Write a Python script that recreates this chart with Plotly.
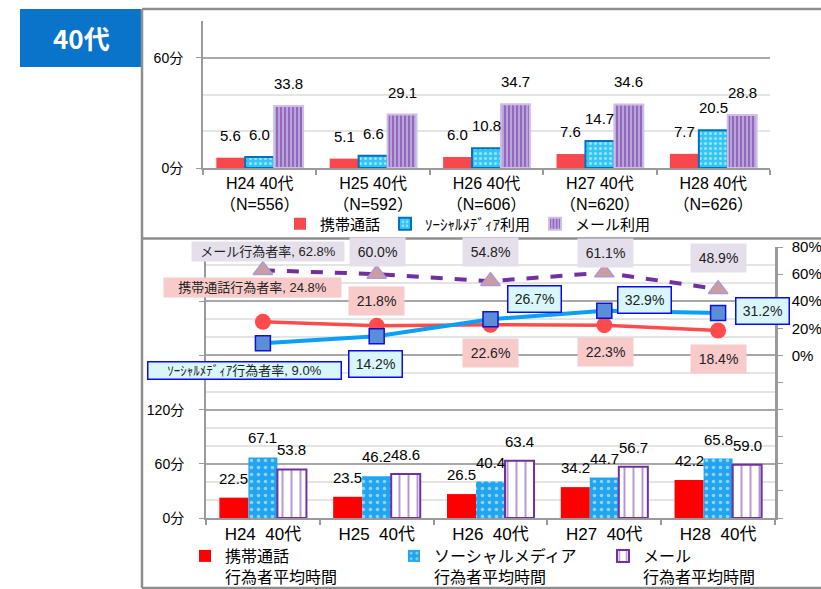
import plotly.graph_objects as go

W, H = 821, 589


def fx(px):
    return px / W


def fy(py):
    return 1 - py / H


# ---------------- data ----------------
top_cats = ["H24 40代<br>（N=556）", "H25 40代<br>（N=592）", "H26 40代<br>（N=606）",
            "H27 40代<br>（N=620）", "H28 40代<br>（N=626）"]
bot_cats = ["H24  40代", "H25  40代", "H26  40代", "H27  40代", "H28  40代"]

top_names = ["携帯通話", "ｿｰｼｬﾙﾒﾃﾞｨｱ利用", "メール利用"]
top_call = [5.6, 5.1, 6.0, 7.6, 7.7]
top_social = [6.0, 6.6, 10.8, 14.7, 20.5]
top_mail = [33.8, 29.1, 34.7, 34.6, 28.8]

bot_names = ["携帯通話<br>行為者平均時間", "ソーシャルメディア<br>行為者平均時間", "メール<br>行為者平均時間"]
bot_call = [22.5, 23.5, 26.5, 34.2, 42.2]
bot_social = [67.1, 46.2, 40.4, 44.7, 65.8]
bot_mail = [53.8, 48.6, 63.4, 56.7, 59.0]

rate_names = ["メール行為者率", "携帯通話行為者率", "ｿｰｼｬﾙﾒﾃﾞｨｱ行為者率"]
rate_mail = [62.8, 60.0, 54.8, 61.1, 48.9]
rate_call = [24.8, 21.8, 22.6, 22.3, 18.4]
rate_social = [9.0, 14.2, 26.7, 32.9, 31.2]

top_yticks = [0, 60]
bot_yticks = [0, 60, 120, 180, 240, 300]
bot_ylabels = ["0分", "60分", "120分", "", "", ""]
rate_ticks = [-120, -100, -80, -60, -40, -20, 0, 20, 40, 60, 80]

# ---------------- style ----------------
FONT = "Liberation Sans, Arial, Noto Sans CJK JP, sans-serif"
RED_T = "#F9474E"
RED_B = "#FF0000"
BLUE_T = "#33C6F5"
BLUE_B = "#22A5F0"
PURPLE = "#7030A0"
LAV = "#B9A3DB"
AXIS = "#9A9A9A"
GRID_MAJ = "#A8A8A8"
GRID_MIN = "#E4E4E4"

BARGAP = 0.235
TOP_X0, TOP_X1, TOP_Y0, TOP_Y1 = 203, 770, 21, 168
BOT_X0, BOT_X1, BOT_Y0, BOT_Y1 = 206, 775, 247, 518

fig = go.Figure()

# top bars
fig.add_trace(go.Bar(x=top_cats, y=top_call, name=top_names[0], marker=dict(color=RED_T, line=dict(width=0)),
                     xaxis="x", yaxis="y", legend="legend"))
fig.add_trace(go.Bar(x=top_cats, y=top_social, name=top_names[1],
                     marker=dict(color=BLUE_T, line=dict(color="#0070C0", width=2),
                                 pattern=dict(shape=".", fgcolor="white", bgcolor=BLUE_T, size=5, solidity=0.3)),
                     xaxis="x", yaxis="y", legend="legend"))
fig.add_trace(go.Bar(x=top_cats, y=top_mail, name=top_names[2],
                     marker=dict(color=LAV, line=dict(color="#CDBFE6", width=2),
                                 pattern=dict(shape="|", fgcolor=PURPLE, bgcolor=LAV, size=4, solidity=0.5)),
                     xaxis="x", yaxis="y", legend="legend"))

# bottom bars
fig.add_trace(go.Bar(x=bot_cats, y=bot_call, name=bot_names[0], marker=dict(color=RED_B, line=dict(width=0)),
                     xaxis="x2", yaxis="y2", legend="legend2"))
fig.add_trace(go.Bar(x=bot_cats, y=bot_social, name=bot_names[1],
                     marker=dict(color=BLUE_B, line=dict(width=0),
                                 pattern=dict(shape=".", fgcolor="white", bgcolor=BLUE_B, size=7, solidity=0.2)),
                     xaxis="x2", yaxis="y2", legend="legend2"))
fig.add_trace(go.Bar(x=bot_cats, y=bot_mail, name=bot_names[2],
                     marker=dict(color="white", line=dict(color=PURPLE, width=2),
                                 pattern=dict(shape="|", fgcolor=PURPLE, bgcolor="white", size=9, solidity=0.22)),
                     xaxis="x2", yaxis="y2", legend="legend2"))

# rate lines (right axis)
fig.add_trace(go.Scatter(x=bot_cats, y=rate_call, name=rate_names[1], mode="lines+markers",
                         line=dict(color="#FF4B4B", width=3.5),
                         marker=dict(symbol="circle", size=16, color="#FF4B4B"),
                         xaxis="x2", yaxis="y3", showlegend=False))
fig.add_trace(go.Scatter(x=bot_cats, y=rate_social, name=rate_names[2], mode="lines+markers",
                         line=dict(color="#0AA0F5", width=4),
                         marker=dict(symbol="square", size=15, color="#5A8ED8", line=dict(color="#1010D0", width=1.5)),
                         xaxis="x2", yaxis="y3", showlegend=False))
fig.add_trace(go.Scatter(x=bot_cats, y=rate_mail, name=rate_names[0], mode="lines+markers",
                         line=dict(color=PURPLE, width=4, dash="dash"),
                         marker=dict(symbol="triangle-up", size=17, color="#CC9CA2", line=dict(color="#A99BD0", width=1.5)),
                         xaxis="x2", yaxis="y3", showlegend=False))

annotations = []

# bar value labels
def bar_labels(cats, series, xref, yref, x0, x1, yshift):
    cat_w = (x1 - x0) / len(cats)
    bw = cat_w * (1 - BARGAP) / len(series)
    for k, vals in enumerate(series):
        off = (k - (len(series) - 1) / 2) * bw
        for c, v in zip(cats, vals):
            annotations.append(dict(x=c, y=v, xref=xref, yref=yref, text=f"{v:.1f}", showarrow=False,
                                    xshift=off, yshift=yshift, yanchor="bottom",
                                    font=dict(size=15, color="black", family=FONT)))

bar_labels(top_cats, [top_call, top_social, top_mail], "x", "y", TOP_X0, TOP_X1, 12)
bar_labels(bot_cats, [bot_call, bot_social, bot_mail], "x2", "y2", BOT_X0, BOT_X1, 9)

# rate labels
LAV_BG = "#E5DFEC"
PINK_BG = "#F9CACA"
CYAN_BG = "#D9F7FA"
mail_shift = [(5, 19), (1, 22), (0, 29), (1, 20), (0, 31)]
call_shift = [(-10, 34), (0, 25), (0, -28), (1, -27), (0, -29)]
soc_shift = [(-18, -27), (-1, -28), (44, 20), (40, 11), (44, 2)]

for i, (c, v) in enumerate(zip(bot_cats, rate_mail)):
    first = i == 0
    annotations.append(dict(
        x=c, y=v, xref="x2", yref="y3", showarrow=False,
        text=(f"{rate_names[0]}, {v:.1f}%" if first else f"{v:.1f}%"),
        xshift=mail_shift[i][0], yshift=mail_shift[i][1],
        width=(150 if first else 53), height=(17 if first else 26),
        bgcolor=LAV_BG, font=dict(size=(13 if first else 14), color="#222", family=FONT)))
for i, (c, v) in enumerate(zip(bot_cats, rate_call)):
    first = i == 0
    annotations.append(dict(
        x=c, y=v, xref="x2", yref="y3", showarrow=False,
        text=(f"{rate_names[1]}, {v:.1f}%" if first else f"{v:.1f}%"),
        xshift=call_shift[i][0], yshift=call_shift[i][1],
        width=(175 if first else 53), height=(17 if first else 26),
        bgcolor=PINK_BG, font=dict(size=(13 if first else 14), color="#222", family=FONT)))
for i, (c, v) in enumerate(zip(bot_cats, rate_social)):
    first = i == 0
    annotations.append(dict(
        x=c, y=v, xref="x2", yref="y3", showarrow=False,
        text=(f"{rate_names[2]}, {v:.1f}%" if first else f"{v:.1f}%"),
        xshift=soc_shift[i][0], yshift=soc_shift[i][1],
        width=(192 if first else 52), height=(16 if first else 25),
        bgcolor=CYAN_BG, bordercolor="#0A0AF0", borderwidth=1.5, borderpad=0,
        font=dict(size=(13 if first else 14), color="#222", family=FONT)))

# title box text
annotations.append(dict(x=fx(81), y=fy(38), xref="paper", yref="paper", text="<b>40代</b>", showarrow=False,
                        xanchor="center", yanchor="middle",
                        font=dict(size=26, color="white", family="Noto Sans CJK JP, sans-serif")))

shapes = [
    dict(type="rect", xref="paper", yref="paper", x0=fx(20), x1=fx(142), y0=fy(67), y1=fy(9),
         fillcolor="#0A74CB", line=dict(width=0), layer="below"),
    dict(type="line", xref="paper", yref="paper", x0=fx(142), x1=1, y0=fy(9), y1=fy(9),
         line=dict(color="#8E8E8E", width=2.5)),
    dict(type="line", xref="paper", yref="paper", x0=fx(142), x1=fx(142), y0=fy(9), y1=fy(588),
         line=dict(color="#8E8E8E", width=2.5)),
    dict(type="line", xref="paper", yref="paper", x0=fx(142), x1=1, y0=fy(238.5), y1=fy(238.5),
         line=dict(color="#8E8E8E", width=2.5)),
    dict(type="line", xref="paper", yref="paper", x0=fx(142), x1=1, y0=fy(588), y1=fy(588),
         line=dict(color="#8E8E8E", width=2.5)),
]

fig.update_layout(
    width=W, height=H, margin=dict(l=0, r=0, t=0, b=0, autoexpand=False),
    paper_bgcolor="white", plot_bgcolor="white",
    font=dict(family=FONT, color="black", size=14),
    barmode="group", bargap=BARGAP, bargroupgap=0,
    annotations=annotations, shapes=shapes,
    xaxis=dict(domain=[fx(TOP_X0), fx(TOP_X1)], anchor="y", type="category", range=[-0.5, 4.5],
               showline=True, linecolor=AXIS, linewidth=2, ticks="outside", tickson="boundaries",
               ticklen=5, tickcolor=AXIS, tickwidth=1.5, tickfont=dict(size=16), showgrid=False,
               automargin=False),
    yaxis=dict(domain=[fy(TOP_Y1), fy(TOP_Y0)], anchor="x", range=[0, 80],
               tickvals=top_yticks, ticktext=[f"{t}分" for t in top_yticks],
               showline=True, linecolor=AXIS, linewidth=2, ticks="outside", ticklen=5, tickcolor=AXIS,
               ticklabelstandoff=10, tickfont=dict(size=14), automargin=False,
               showgrid=True, gridcolor=GRID_MAJ, gridwidth=2, zeroline=False,
               minor=dict(dtick=20, tick0=0, showgrid=True, gridcolor=GRID_MIN, gridwidth=1.5, ticks="")),
    xaxis2=dict(domain=[fx(BOT_X0), fx(BOT_X1)], anchor="y2", type="category", range=[-0.5, 4.5],
                showline=True, linecolor=AXIS, linewidth=2, ticks="outside", tickson="boundaries",
                ticklen=5, tickcolor=AXIS, tickwidth=1.5, tickfont=dict(size=17), showgrid=False,
                automargin=False),
    yaxis2=dict(domain=[fy(BOT_Y1), fy(BOT_Y0)], anchor="x2", range=[0, 300],
                tickvals=bot_yticks, ticktext=bot_ylabels,
                showline=True, linecolor=AXIS, linewidth=2, ticks="outside", ticklen=5, tickcolor=AXIS,
                ticklabelstandoff=12, tickfont=dict(size=14), automargin=False,
                showgrid=True, gridcolor=GRID_MAJ, gridwidth=2, zeroline=False,
                minor=dict(dtick=20, tick0=0, showgrid=True, gridcolor=GRID_MIN, gridwidth=1.5, ticks="")),
    yaxis3=dict(overlaying="y2", anchor="x2", side="right", range=[-120, 80],
                tickvals=rate_ticks, ticktext=[(f"{t}%" if t >= 0 else "") for t in rate_ticks],
                showline=True, linecolor=AXIS, linewidth=2.5, ticks="outside", ticklen=5, tickcolor=AXIS,
                ticklabelstandoff=6, tickfont=dict(size=15), showgrid=False, zeroline=False,
                automargin=False),
    legend=dict(orientation="h", x=fx(280), y=fy(224), xanchor="left", yanchor="middle",
                font=dict(size=15), bgcolor="rgba(0,0,0,0)", itemwidth=30, traceorder="normal"),
    legend2=dict(orientation="h", x=fx(185), y=fy(539), xanchor="left", yanchor="top",
                 font=dict(size=16), bgcolor="rgba(0,0,0,0)", itemwidth=30, valign="top",
                 entrywidth=164, traceorder="normal"),
)

fig.write_html("out.html")
